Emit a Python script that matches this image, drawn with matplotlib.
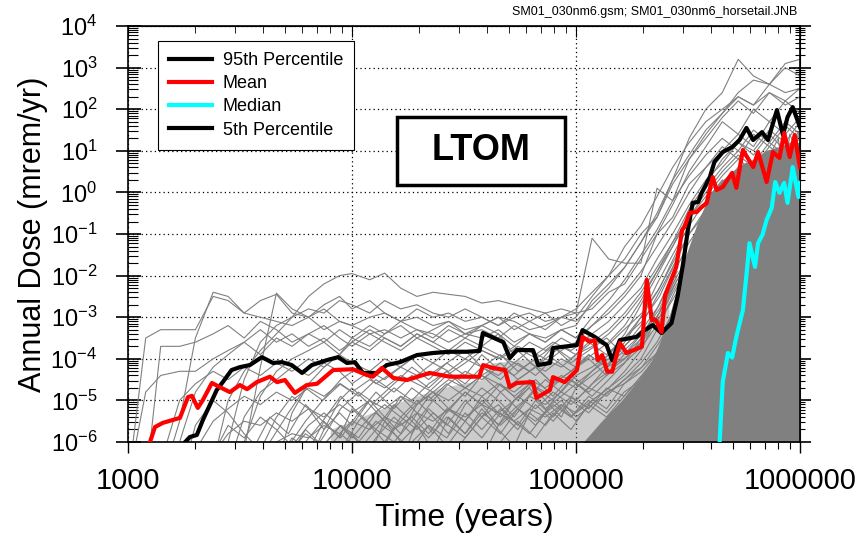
import numpy as np
import matplotlib
matplotlib.use("Agg")
import matplotlib.pyplot as plt
from matplotlib.patches import Rectangle
from matplotlib.ticker import LogLocator, FuncFormatter, NullFormatter

plt.rcParams['font.family'] = ['Liberation Sans', 'DejaVu Sans']
plt.rcParams['mathtext.fontset'] = 'custom'
plt.rcParams['mathtext.rm'] = 'Liberation Sans'
plt.rcParams['mathtext.it'] = 'Liberation Sans'

# --- statistics curves (time in years, dose as log10 mrem/yr) ---
p95_t = [1800, 1890, 2030, 2160, 2320, 2490, 2650, 2900, 3160, 3500, 3960, 4440, 4870, 5380, 5990,
         6620, 7740, 8680, 9500, 10300, 11200, 12900, 14300, 16400, 19500, 23000, 27300, 32500, 37100,
         38400, 47400, 50600, 54400, 64300, 67800, 76500, 79000, 101000, 107000, 121000, 137000,
         145000, 157000, 187000, 203000, 220000, 241000, 267000, 284000, 301000, 316000, 332000,
         351000, 364000, 396000, 415000, 452000, 498000, 537000, 577000, 618000, 677000, 720000,
         789000, 840000, 880000, 928000, 1000000]
p95_d = [-6.0, -5.88, -5.83, -5.47, -5.11, -4.75, -4.56, -4.27, -4.20, -4.15, -3.96, -4.10, -4.08, -4.15, -4.34,
         -4.15, -4.03, -3.96, -4.10, -4.08, -4.34, -4.34, -4.15, -4.08, -3.91, -3.86, -3.83, -3.83, -3.81,
         -3.38, -3.60, -3.98, -3.79, -3.79, -4.15, -4.10, -3.74, -3.67, -3.31, -3.47, -3.67,
         -4.03, -3.55, -3.47, -3.31, -3.19, -3.38, -3.14, -2.51, -1.70, -0.90, -0.25,
         -0.23, -0.01, 0.37, 0.73, 0.97, 1.09, 1.26, 1.55, 1.26, 1.45, 1.26,
         1.98, 1.38, 1.81, 2.05, 1.57]

mean_t = [1254, 1320, 1430, 1706, 1853, 1930, 2050, 2160, 2370, 2570, 2850, 3160, 3400, 3760, 4300,
          4630, 5020, 5560, 6290, 6980, 8240, 10100, 11650, 12400, 13600, 15300, 17600, 22200, 27300,
          37000, 38500, 42600, 48200, 50600, 54400, 64300, 66600, 76500, 79000, 89000, 101000,
          107000, 115000, 121000, 125000, 131000, 138000, 145000, 157000, 168000, 197000, 207000,
          218000, 228000, 241000, 250000, 280000, 298000, 305000, 322000, 346000, 364000, 383000,
          408000, 424000, 452000, 498000, 520000, 556000, 618000, 650000, 710000, 757000, 810000,
          850000, 900000, 947000, 1000000]
mean_d = [-6.0, -5.64, -5.54, -5.42, -4.92, -4.89, -5.18, -4.99, -4.58, -4.68, -4.80, -4.63, -4.73, -4.56, -4.43,
          -4.56, -4.51, -4.82, -4.63, -4.60, -4.27, -4.25, -4.39, -4.43, -4.22, -4.46, -4.51, -4.34, -4.43,
          -4.43, -4.15, -4.22, -4.27, -4.68, -4.58, -4.56, -4.94, -4.75, -4.44, -4.56, -4.27,
          -3.47, -3.59, -3.55, -4.03, -3.91, -4.31, -4.31, -3.62, -3.86, -3.71, -2.10,
          -3.07, -3.07, -3.36, -2.47, -1.80, -0.90, -0.83, -0.49, -0.47, -0.35, -0.26,
          0.37, 0.06, 0.13, 0.47, 0.11, 1.02, 0.61, 0.97, 0.25, 0.97, 0.83,
          1.43, 0.85, 1.38, 0.61]

median_t = [430000, 438000, 452000, 477000, 498000, 520000, 556000, 578000, 595000, 630000, 650000,
            680000, 710000, 748000, 775000, 810000, 850000, 880000, 928000, 985000, 1000000]
median_d = [-6.2, -6.0, -4.56, -3.86, -3.97, -3.47, -2.83, -1.94, -1.22, -1.79, -1.22,
            -1.02, -0.66, -0.37, 0.25, -0.01, 0.23, -0.25, 0.61, -0.11, 0.23]

# 5th percentile stays below the plotted range
p05_t = [1000, 100000, 1000000]
p05_d = [-9.0, -9.0, -9.0]

# --- individual realizations on a common time grid (log10 dose, -7 = not yet arrived) ---
grid_t = [1000, 1200, 1400, 1700, 2000, 2400, 2800, 3300, 3900, 4600, 5400,
          6400, 7500, 8800, 10000, 12000, 14000, 16500, 19500, 23000, 27000,
          32000, 38000, 45000, 53000, 62000, 73000, 86000, 100000, 118000, 140000,
          165000, 195000, 230000, 270000, 320000, 380000, 450000, 530000, 620000, 730000, 860000, 1000000]

r01 = [-7, -3.5, -3.3, -3.3, -3.3, -2.5, -2.6, -2.9, -3.0, -3.1, -3.2,
       -3.0, -3.3, -3.1, -3.2, -3.4, -3.3, -3.5, -3.3, -3.4, -3.6,
       -3.4, -3.5, -3.3, -3.6, -3.4, -3.5, -3.3, -3.2, -2.6, -2.2,
       -1.8, -1.2, -0.5, 0.3, 0.9, 1.5, 1.9, 2.3, 2.1, 2.6, 2.4, 2.5]
r02 = [-7, -7, -3.7, -3.7, -3.6, -3.4, -3.2, -3.5, -3.1, -3.3, -3.6,
       -3.4, -3.2, -3.5, -3.7, -3.4, -3.6, -3.8, -3.5, -3.7, -3.9,
       -3.6, -3.8, -4.0, -3.7, -3.9, -4.1, -3.8, -3.6, -3.2, -2.9,
       -2.5, -2.0, -1.0, -0.6, 0.2, 0.6, 1.1, 0.8, 1.4, 1.1, 1.6, 1.3]
r03 = [-7, -7, -7, -5.5, -3.5, -2.4, -2.5, -2.9, -2.6, -2.45, -2.9,
       -3.0, -2.8, -3.1, -3.2, -3.0, -2.9, -3.1, -3.0, -3.2, -3.1,
       -3.3, -3.2, -3.0, -3.1, -3.3, -3.2, -3.0, -2.9, -2.8, -2.4,
       -2.2, -1.6, -1.0, -0.3, 0.5, 1.1, 1.7, 1.4, 2.0, 1.7, 2.2, 1.9]
r04 = [-7, -7, -7, -7, -7, -6.5, -5.0, -4.3, -3.8, -3.4, -3.0,
       -2.5, -2.2, -2.0, -1.95, -2.1, -1.94, -2.3, -2.5, -2.4, -2.45,
       -2.5, -2.66, -2.6, -2.7, -2.8, -2.9, -2.8, -2.9, -1.1, -1.6,
       -1.7, -1.7, 0.1, -0.2, 0.8, 1.4, 1.9, 2.4, 2.7, 2.6, 3.0, 2.8]
r05 = [-7, -4.8, -4.4, -4.3, -4.3, -4.0, -3.8, -3.6, -3.9, -3.5, -3.7,
       -3.4, -3.6, -3.3, -3.5, -3.2, -3.4, -3.1, -3.3, -3.5, -3.2,
       -3.4, -3.3, -3.5, -3.2, -3.4, -3.6, -3.3, -3.5, -3.0, -2.6,
       -2.1, -1.5, -0.9, -0.2, 0.4, 0.9, 1.3, 1.0, 1.5, 1.2, 1.7, 1.4]
r06 = [-7, -7, -7, -6.0, -4.8, -4.2, -3.9, -3.6, -3.3, -3.6, -3.4,
       -3.7, -3.5, -3.8, -3.6, -3.3, -3.5, -3.7, -3.4, -3.6, -3.8,
       -3.5, -3.7, -3.4, -3.9, -3.6, -3.8, -3.5, -3.7, -3.4, -3.1,
       -2.7, -2.3, -1.6, -1.0, -0.3, 0.3, 0.7, 1.2, 0.9, 1.4, 1.0, 1.5]
r07 = [-7, -7, -7, -7, -6.2, -5.5, -5.2, -4.9, -5.1, -4.8, -5.0,
       -4.7, -4.9, -4.6, -4.8, -4.5, -4.7, -4.4, -4.6, -4.8, -4.5,
       -4.7, -4.4, -4.6, -4.9, -4.6, -4.8, -4.5, -4.7, -4.4, -4.1,
       -3.6, -3.0, -2.2, -1.5, -0.8, -0.2, 0.3, 0.0, 0.6, 0.2, 0.8, 0.5]
r08 = [-7, -7, -7, -7, -7, -6.3, -5.8, -5.5, -5.6, -5.3, -5.5,
       -5.2, -5.4, -5.1, -5.3, -5.0, -5.2, -4.9, -5.1, -4.8, -5.0,
       -4.7, -4.9, -4.6, -4.8, -4.5, -4.7, -4.4, -4.6, -4.3, -4.0,
       -3.7, -3.2, -2.5, -1.8, -1.0, -0.5, 0.1, -0.3, 0.3, 0.0, 0.5, 0.2]
r09 = [-7, -7, -7, -7, -7, -7, -6.0, -4.5, -3.6, -3.2, -3.0,
       -2.8, -2.9, -2.6, -2.7, -2.9, -2.6, -2.8, -2.7, -2.9, -3.0,
       -2.8, -3.0, -3.2, -2.9, -3.1, -3.3, -3.0, -3.1, -2.7, -2.3,
       -1.8, -1.2, -0.6, 0.2, 0.8, 1.3, 1.8, 2.2, 1.9, 2.4, 2.1, 2.3]
r10 = [-7, -7, -6.5, -5.0, -4.6, -4.3, -4.5, -4.2, -4.4, -4.1, -4.3,
       -4.0, -4.2, -3.9, -4.1, -4.3, -4.0, -4.2, -3.9, -4.1, -3.8,
       -4.0, -3.7, -3.9, -4.1, -3.8, -4.0, -3.7, -3.9, -3.6, -3.3,
       -2.9, -2.4, -1.8, -1.2, -0.6, 0.0, 0.5, 0.9, 0.6, 1.1, 0.8, 1.2]
r11 = [-7, -7, -7, -7, -7, -7, -7, -7, -6.5, -6.0, -5.8,
       -5.9, -5.6, -5.8, -5.5, -5.7, -5.4, -5.6, -5.3, -5.5, -5.2,
       -5.4, -5.1, -5.3, -5.5, -5.2, -5.4, -5.1, -5.3, -5.0, -4.7,
       -4.4, -4.0, -3.3, -2.5, -1.7, -1.0, -0.4, -0.8, -0.1, -0.5, 0.2, -0.2]
r12 = [-7, -7, -7, -7, -7, -7, -7, -7, -7, -6.6, -5.3,
       -4.6, -4.2, -3.9, -3.6, -3.8, -3.5, -3.7, -3.4, -3.6, -3.3,
       -3.5, -3.2, -3.4, -3.7, -3.4, -3.6, -3.3, -3.5, -3.2, -2.8,
       -2.4, -1.9, -1.3, -0.7, 0.0, 0.6, 1.0, 1.4, 1.1, 1.7, 1.4, 1.8]
r13 = [-7, -7, -7, -7, -7, -7, -7, -7, -7, -7, -7,
       -7, -7, -7, -7, -7, -7, -6.5, -5.5, -5.0, -4.6,
       -4.3, -4.5, -4.2, -4.4, -4.1, -4.3, -4.0, -4.2, -3.9, -3.6,
       -3.2, -2.6, -1.9, -1.3, -0.6, -0.1, 0.4, 0.8, 0.5, 1.0, 0.7, 1.1]
r14 = [-7, -7, -7, -7, -7, -7, -7, -7, -7, -7, -7,
       -7, -7, -7, -7, -7, -7, -7, -7, -7, -7,
       -7, -6.4, -5.6, -5.2, -4.9, -5.1, -4.8, -5.0, -4.6, -4.3,
       -4.0, -3.6, -3.0, -2.3, -1.6, -1.0, -0.5, -0.1, -0.4, 0.1, -0.2, 0.3]
r15 = [-7, -7, -7, -7, -5.6, -5.0, -5.3, -5.8, -6.2, -5.4, -4.9,
       -5.2, -5.7, -5.0, -4.7, -5.1, -5.5, -4.9, -5.3, -5.8, -5.2,
       -4.8, -5.1, -5.6, -5.0, -4.7, -5.2, -4.9, -4.6, -4.9, -4.5,
       -4.1, -3.5, -2.8, -2.0, -1.2, -0.6, 0.0, 0.4, 0.1, 0.7, 0.3, 0.8]
r16 = [-7, -7, -7, -7, -7, -7, -7, -6.0, -4.9, -4.3, -4.0,
       -3.8, -3.6, -3.9, -3.5, -3.7, -3.4, -3.2, -3.5, -3.3, -3.1,
       -3.4, -3.2, -3.0, -3.3, -3.1, -2.9, -3.2, -3.0, -2.5, -2.0,
       -1.6, -1.0, -0.6, 0.3, 1.3, 2.0, 2.4, 3.2, 2.8, 2.6, 3.1, 3.2]
r17 = [-7, -7, -7, -7, -7, -7, -7, -7, -7, -7, -7,
       -6.5, -5.7, -5.3, -5.6, -5.0, -5.4, -5.8, -5.1, -4.8, -5.2,
       -5.5, -4.9, -5.3, -5.0, -4.6, -5.0, -5.4, -4.7, -4.3, -3.9,
       -3.4, -2.7, -2.0, -1.3, -0.5, 0.1, 0.6, 1.0, 0.7, 1.2, 0.9, 1.3]
r18 = [-7, -7, -7, -7, -7, -6.3, -5.6, -5.9, -5.4, -5.7, -6.1,
       -5.6, -5.3, -5.6, -5.9, -5.4, -5.1, -5.4, -5.7, -5.3, -5.6,
       -5.9, -5.4, -5.1, -5.5, -5.8, -5.3, -5.0, -5.4, -5.1, -4.8,
       -4.5, -4.1, -3.6, -2.9, -2.1, -1.4, -0.8, -0.3, -0.6, -0.1, -0.4, 0.1]
r19 = [-7, -7, -7, -7, -7, -7, -6.6, -5.4, -4.8, -4.5, -4.2,
       -4.4, -4.1, -4.3, -4.6, -4.3, -4.5, -4.2, -4.4, -4.1, -4.3,
       -4.0, -4.2, -4.4, -4.1, -4.3, -4.0, -4.2, -3.9, -3.7, -3.4,
       -3.0, -2.5, -1.9, -1.2, -0.4, 0.2, 0.8, 1.2, 1.0, 1.5, 1.2, 1.7]
r20 = [-7, -7, -7, -7, -7, -7, -7, -6.2, -4.2, -2.42, -2.8,
       -3.0, -2.7, -2.5, -2.8, -2.6, -2.9, -3.1, -2.8, -3.0, -2.9,
       -3.1, -3.0, -3.2, -3.0, -2.9, -3.1, -3.0, -2.8, -2.4, -2.0,
       -1.3, -0.8, -0.1, 0.6, 1.2, 1.7, 2.0, 2.3, 2.1, 2.4, 2.2, 2.5]
r21 = [-7, -7, -7, -7, -7, -7, -7, -7, -7, -7, -7,
       -7, -7, -6.6, -5.8, -6.3, -5.5, -6.0, -5.6, -6.2, -5.4,
       -5.8, -5.2, -5.7, -6.1, -5.3, -5.6, -5.1, -5.5, -5.0, -4.7,
       -4.3, -3.8, -3.0, -2.2, -1.5, -0.9, -0.3, 0.1, -0.2, 0.4, 0.0, 0.5]
r22 = [-7, -7, -7, -7, -7, -7, -7, -7, -7, -6.5, -5.9,
       -6.2, -5.5, -5.9, -5.2, -5.6, -6.0, -5.4, -5.0, -5.4, -5.8,
       -5.1, -4.7, -5.0, -5.4, -4.9, -4.5, -4.8, -4.4, -4.2, -3.9,
       -3.5, -3.0, -2.4, -1.7, -1.0, -0.4, 0.2, 0.6, 0.3, 0.9, 0.5, 1.0]

# finer-sampled low realizations, 3000 - 283000 yr
fine_t = [3000, 3600, 4300, 5200, 6200, 7400, 8900, 10700, 12800, 15400, 18500, 22000, 26500,
          32000, 38000, 46000, 55000, 66000, 79000, 95000, 114000, 137000, 164000, 197000, 236000, 283000]
f01 = [-7, -6.2, -5.4, -5.8, -5.1, -5.5, -4.9, -5.3, -4.8, -5.2, -4.7, -5.0, -4.6, -4.9, -4.4, -4.8, -4.5, -4.2, -4.6, -4.3, -4.0, -4.4, -3.9, -3.5, -3.0, -2.2]
f02 = [-7, -7, -7, -6.4, -5.7, -6.1, -5.6, -5.9, -5.3, -5.7, -5.4, -5.8, -5.2, -5.5, -5.0, -5.4, -4.9, -5.2, -4.8, -5.1, -4.7, -4.9, -4.5, -4.2, -3.8, -3.0]
f03 = [-7, -7, -6.0, -5.3, -4.7, -5.0, -4.5, -4.2, -4.6, -4.3, -4.0, -4.4, -4.1, -3.8, -4.2, -3.9, -4.3, -4.0, -3.7, -4.1, -3.8, -3.5, -3.9, -3.4, -2.9, -2.0]
f04 = [-7, -7, -7, -7, -7, -6.3, -5.8, -6.2, -5.7, -6.0, -5.5, -5.9, -5.4, -5.8, -5.3, -5.6, -5.2, -5.5, -5.1, -5.4, -5.0, -5.3, -4.8, -4.5, -4.1, -3.4]
f05 = [-7, -7, -7, -7, -6.5, -5.9, -5.2, -4.8, -5.1, -4.7, -5.0, -4.6, -4.3, -4.7, -4.4, -4.1, -4.5, -4.2, -4.6, -4.3, -3.9, -4.2, -3.8, -3.4, -2.8, -1.9]
f06 = [-7, -6.6, -6.0, -6.3, -5.8, -6.1, -5.6, -6.0, -5.5, -5.8, -6.2, -5.6, -5.9, -5.3, -5.7, -5.2, -5.6, -5.0, -5.4, -4.9, -5.2, -4.7, -4.9, -4.4, -3.9, -3.2]
f07 = [-7, -7, -7, -7, -7, -7, -7, -6.5, -5.9, -5.4, -5.8, -5.2, -5.6, -5.0, -5.4, -4.8, -5.2, -4.7, -5.0, -4.5, -4.8, -4.4, -4.1, -3.7, -3.1, -2.4]
f08 = [-7, -7, -7, -7, -7, -7, -6.2, -5.5, -5.0, -4.6, -4.2, -4.5, -4.1, -4.4, -3.9, -4.3, -3.8, -4.2, -3.7, -4.0, -3.6, -3.9, -3.5, -3.1, -2.5, -1.6]
f09 = [-7, -7, -7, -7, -7, -7, -7, -7, -7, -6.6, -6.0, -5.6, -6.1, -5.5, -5.9, -5.3, -5.7, -5.1, -5.5, -5.0, -5.3, -4.8, -4.6, -4.2, -3.6, -2.8]
f10 = [-7, -7, -6.8, -6.1, -5.5, -5.0, -4.6, -4.9, -4.5, -4.8, -4.4, -4.7, -4.3, -4.6, -4.2, -4.5, -4.1, -4.4, -4.0, -4.3, -3.9, -4.2, -3.7, -3.3, -2.7, -1.8]
f11 = [-7, -7, -7, -7, -7, -7, -7, -7, -7, -7, -7, -7, -6.5, -5.9, -5.4, -5.8, -5.2, -5.6, -5.0, -5.4, -4.9, -5.2, -4.6, -4.3, -3.8, -3.1]
f12 = [-7, -7, -7, -7, -6.0, -5.5, -5.9, -5.3, -5.7, -5.1, -5.5, -4.9, -5.3, -4.8, -5.1, -4.6, -5.0, -4.5, -4.9, -4.4, -4.7, -4.2, -4.0, -3.6, -3.0, -2.1]
f13 = [-7, -7, -7, -7, -7, -7, -7, -7, -6.4, -5.7, -5.2, -4.8, -4.4, -4.1, -3.8, -4.0, -3.7, -3.9, -3.6, -3.8, -3.5, -3.7, -3.3, -2.9, -2.3, -1.4]
f14 = [-7, -7, -7, -7, -7, -7, -7, -7, -7, -7, -7, -7, -7, -7, -6.6, -6.0, -5.5, -5.9, -5.3, -5.7, -5.1, -5.4, -4.9, -4.4, -3.9, -3.2]

# late-arriving realizations
late_t = [200000, 215000, 230000, 250000, 270000, 290000, 310000, 335000, 360000, 390000, 420000, 450000,
          485000, 520000, 560000, 600000, 650000, 700000, 750000, 800000, 850000, 900000, 950000, 1000000]
l01 = [-7, -7, -6.5, -5.0, -4.2, -3.5, -2.8, -3.9, -2.2, -1.6, -2.5, -1.0, -0.6, -1.8, -0.2, 0.3, -0.9, 0.5, 0.1, 0.8, -0.4, 0.9, 0.4, 1.0]
l02 = [-7, -7, -7, -7, -6.4, -5.3, -4.6, -3.8, -5.0, -3.2, -2.6, -3.7, -2.0, -1.5, -2.9, -0.9, -0.5, -1.7, -0.1, 0.2, -1.2, 0.4, 0.0, 0.6]
l03 = [-7, -7, -7, -7, -7, -7, -6.0, -5.2, -4.4, -5.6, -3.8, -3.2, -4.5, -2.6, -2.0, -3.3, -1.5, -1.0, -2.4, -0.6, -0.3, -1.6, 0.0, -0.4]
l04 = [-7, -6.2, -5.1, -4.3, -3.6, -4.8, -2.9, -2.3, -3.4, -1.7, -1.2, -2.5, -0.8, -0.4, -1.6, 0.0, 0.4, -0.7, 0.6, 0.9, -0.2, 1.0, 0.7, 1.2]
l05 = [-7, -7, -7, -7, -7, -7, -7, -7, -6.3, -5.5, -4.9, -6.0, -4.2, -3.6, -4.8, -3.0, -2.4, -3.7, -1.9, -1.4, -2.8, -1.0, -0.6, -1.5]
l06 = [-7, -7, -7, -6.6, -5.6, -4.8, -5.9, -4.0, -3.3, -4.5, -2.7, -2.1, -3.2, -1.5, -1.1, -2.3, -0.7, -0.3, -1.4, 0.1, 0.4, -0.8, 0.6, 0.3]
l07 = [-7, -7, -7, -7, -7, -7, -7, -7, -7, -7, -7, -6.4, -5.6, -4.9, -5.8, -4.2, -3.5, -4.6, -2.9, -2.3, -3.5, -1.8, -1.3, -2.2]
l08 = [-7, -7, -7, -7, -7, -6.7, -5.7, -4.9, -6.0, -4.2, -3.5, -4.7, -2.8, -2.2, -3.4, -1.6, -1.1, -2.4, -0.7, -0.2, -1.3, 0.2, 0.5, -0.3]
l09 = [-7, -7, -7, -7, -7, -7, -7, -7, -7, -7, -7, -7, -7, -6.2, -5.0, -5.8, -4.1, -3.3, -4.4, -2.6, -2.0, -3.1, -1.4, -0.9]
l10 = [-7, -5.8, -4.6, -3.8, -4.9, -3.1, -2.5, -1.9, -3.0, -1.3, -0.9, -1.8, -0.4, 0.1, -0.8, 0.4, 0.8, -0.2, 1.0, 1.3, 0.3, 1.4, 1.1, 1.5]
l11 = [-7, -7, -7, -7, -7, -7, -7, -7, -7, -7, -6.6, -5.8, -6.4, -5.0, -4.4, -5.5, -3.8, -3.2, -4.3, -2.6, -2.1, -3.2, -1.6, -1.2]
l12 = [-7, -7, -6.8, -5.9, -5.0, -6.1, -4.3, -3.6, -2.9, -4.0, -2.2, -1.6, -2.7, -1.0, -0.6, -1.7, -0.2, 0.2, -0.9, 0.5, 0.8, -0.3, 0.9, 0.6]
l13 = [-7, -7, -7, -5.5, -7, -4.2, -6.5, -3.5, -2.7, -5.0, -2.0, -1.5, -4.0, -1.0, -0.5, -3.0, -0.2, 0.2, -2.0, 0.4, 0.6, -1.5, 0.7, 0.5]
l14 = [-7, -6.0, -7, -5.0, -4.0, -7, -3.2, -2.5, -6.0, -1.8, -1.3, -4.5, -0.9, -0.5, -3.5, 0.0, 0.3, -2.5, 0.5, 0.8, -1.0, 0.9, 0.6, 1.0]
l15 = [-7, -7, -7, -7, -7, -6.0, -7, -5.0, -4.2, -7, -3.4, -2.8, -6.0, -2.2, -1.7, -5.0, -1.2, -0.8, -4.0, -0.4, -0.1, -3.0, 0.2, -0.2]
l16 = [-7, -7, -5.8, -7, -4.8, -4.0, -6.5, -3.2, -2.6, -7, -2.0, -1.5, -5.0, -1.0, -0.6, -4.0, -0.3, 0.1, -3.0, 0.3, 0.5, -2.0, 0.6, 0.3]
l17 = [-7, -7, -7, -7, -7, -7, -7, -6.2, -7, -5.2, -4.4, -7, -3.7, -3.0, -6.5, -2.4, -1.9, -5.5, -1.4, -1.0, -4.5, -0.6, -0.3, -3.5]
l18 = [-7, -5.5, -4.5, -6.5, -3.8, -3.0, -5.5, -2.3, -1.8, -4.5, -1.2, -0.8, -3.5, -0.3, 0.1, -2.5, 0.4, 0.7, -1.5, 0.9, 1.1, -0.5, 1.2, 1.0]
l19 = [-7, -7, -7, -7, -7, -7, -7, -7, -7, -7, -6.5, -7, -5.5, -4.8, -7, -4.0, -3.3, -6.0, -2.7, -2.1, -5.0, -1.6, -1.1, -4.0]
l20 = [-7, -7, -7, -6.0, -5.0, -7, -4.2, -3.5, -6.0, -2.8, -2.2, -5.0, -1.6, -1.1, -4.0, -0.7, -0.3, -3.0, 0.0, 0.3, -2.0, 0.5, 0.2, 0.7]

# upper edge of the solid late-time band of overlapping realizations
band_t = [100000, 130000, 160000, 190000, 220000, 250000, 280000, 310000, 350000, 400000, 450000,
          500000, 560000, 620000, 700000, 800000, 900000, 1000000]
band_hi = [-6.2, -5.5, -5.0, -4.5, -4.0, -3.3, -2.4, -1.5, -0.7, 0.0, 0.3,
           0.5, 0.7, 0.8, 1.0, 1.1, 1.2, 1.2]

# upper edge of the densely tangled low-dose region
tangle_t = [8000, 15000, 25000, 38000, 42000, 60000, 80000, 100000, 130000, 170000, 220000, 260000]
tangle_hi = [-5.7, -5.1, -4.7, -4.5, -4.1, -4.0, -4.1, -3.9, -4.0, -3.8, -3.3, -2.5]

grid_runs = [r01, r02, r03, r04, r05, r06, r07, r08, r09, r10, r11,
             r12, r13, r14, r15, r16, r17, r18, r19, r20, r21, r22]
fine_runs = [f01, f02, f03, f04, f05, f06, f07, f08, f09, f10, f11, f12, f13, f14]
late_runs = [l01, l02, l03, l04, l05, l06, l07, l08, l09, l10,
             l11, l12, l13, l14, l15, l16, l17, l18, l19, l20]

y_exps = list(range(-6, 5))
x_ticks = [1000, 10000, 100000, 1000000]

fig = plt.figure(figsize=(8.6, 5.48), dpi=100)
ax = fig.add_axes([0.1488, 0.1934, 0.7814, 0.7591])

gray = '#808080'
ax.fill_between(tangle_t, 1e-7, 10 ** np.array(tangle_hi), color=gray, alpha=0.4, lw=0, zorder=1)
ax.fill_between(band_t, 1e-7, 10 ** np.array(band_hi), color=gray, lw=0, zorder=1)
for run in grid_runs:
    ax.plot(grid_t, 10 ** np.array(run), color=gray, lw=0.8, zorder=2)
for run in fine_runs:
    ax.plot(fine_t, 10 ** np.array(run), color=gray, lw=0.8, zorder=2)
for run in late_runs:
    ax.plot(late_t, 10 ** np.array(run), color=gray, lw=0.8, zorder=2)

ax.plot(p95_t, 10 ** np.array(p95_d), color='black', lw=3, zorder=5, label='95th Percentile')
ax.plot(mean_t, 10 ** np.array(mean_d), color='red', lw=3, zorder=6, label='Mean')
ax.plot(median_t, 10 ** np.array(median_d), color='cyan', lw=3, zorder=6, label='Median')
ax.plot(p05_t, 10 ** np.array(p05_d), color='black', lw=3, zorder=5, label='5th Percentile')

ax.set_xscale('log')
ax.set_yscale('log')
ax.set_xlim(1000, 1e6)
ax.set_ylim(1e-6, 1e4)

ax.set_axisbelow(True)
ax.grid(True, which='major', color='black', linestyle=(0, (1, 2.5)), lw=0.9, zorder=0)

ax.set_xticks(x_ticks)
ax.set_xticklabels([str(v) for v in x_ticks], fontsize=21)
ax.xaxis.set_minor_locator(LogLocator(base=10, subs=range(2, 10), numticks=100))
ax.xaxis.set_minor_formatter(NullFormatter())
ax.set_yticks([10.0 ** e for e in y_exps])
ax.yaxis.set_major_formatter(FuncFormatter(lambda v, p: '10$^{%d}$' % round(np.log10(v))))
ax.yaxis.set_minor_locator(LogLocator(base=10, subs=range(2, 10), numticks=100))
ax.yaxis.set_minor_formatter(NullFormatter())
ax.tick_params(axis='y', which='major', direction='inout', length=18, width=1.2, labelsize=17, pad=13)
ax.tick_params(axis='y', which='minor', direction='in', length=7, width=0.8)
ax.tick_params(axis='x', which='major', direction='out', length=8, width=1, pad=10)
ax.tick_params(axis='x', which='minor', direction='out', length=5, width=0.8)

top = ax.secondary_xaxis('top')
top.set_xticks(x_ticks)
top.xaxis.set_minor_locator(LogLocator(base=10, subs=range(2, 10), numticks=100))
top.tick_params(which='major', direction='in', length=8, labeltop=False)
top.tick_params(which='minor', direction='in', length=5)
top.set_xticklabels([])

right = ax.secondary_yaxis('right')
right.set_yticks([10.0 ** e for e in y_exps])
right.yaxis.set_minor_locator(LogLocator(base=10, subs=range(2, 10), numticks=100))
right.tick_params(which='major', direction='inout', length=16, width=1.2)
right.tick_params(which='minor', direction='inout', length=7, width=0.8)
right.set_yticklabels([])

for s in ax.spines.values():
    s.set_linewidth(1.2)

ax.set_xlabel('Time (years)', fontsize=23, labelpad=6)
ax.set_ylabel('Annual Dose (mrem/yr)', fontsize=22, labelpad=2)

leg = ax.legend(loc='upper left', bbox_to_anchor=(0.0446, 0.964), fontsize=13, borderaxespad=0,
                frameon=True, fancybox=False, framealpha=1, edgecolor='black',
                handlelength=2.4, handletextpad=0.6, borderpad=0.6, labelspacing=0.35)
leg.get_frame().set_linewidth(0.8)
leg.set_zorder(10)

# LTOM label with its frame
ax.add_patch(Rectangle((0.4003, 0.6178), 0.25, 0.1635, transform=ax.transAxes,
                       facecolor='white', edgecolor='black', lw=2.5, zorder=9))
ax.text(0.525, 0.70, 'LTOM', transform=ax.transAxes, ha='center', va='center',
        fontsize=26, fontweight='bold', zorder=10)

fig.text(0.927, 0.978, 'SM01_030nm6.gsm; SM01_030nm6_horsetail.JNB', ha='right', va='center', fontsize=9)

fig.savefig('out.png', dpi=100)
